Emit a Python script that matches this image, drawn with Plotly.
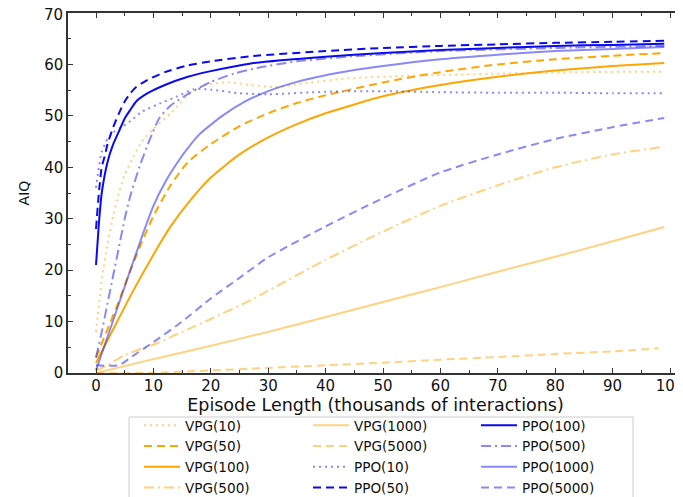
import plotly.graph_objects as go

# ---------------- data ----------------
x_vpg10 = [0, 0.5, 1, 2, 3, 4, 5, 6.5, 8, 10, 13, 16, 19, 23, 27, 31, 36, 44, 55, 70, 85, 99]
y_vpg10 = [8, 13, 18, 25, 30.5, 35, 38.5, 42, 45, 47.5, 50.5, 54, 56, 56.5, 56, 55.6, 56.3, 57.3, 57.8, 58.2, 58.5, 58.6]

x_vpg50 = [0, 2, 4, 6, 8, 10, 13, 16, 20, 25, 30, 35, 40, 50, 60, 70, 80, 90, 99]
y_vpg50 = [3, 8.5, 14, 20, 25.5, 30.5, 36.5, 41, 44.5, 48, 50.5, 52.5, 54, 56.5, 58.5, 60, 61, 61.7, 62.2]

x_vpg100 = [0, 3, 6, 10, 13, 16, 20, 25, 30, 35, 40, 50, 60, 70, 80, 90, 99]
y_vpg100 = [2, 8.5, 15, 23, 28.5, 33, 38, 42.5, 45.8, 48.4, 50.5, 53.8, 56, 57.6, 58.8, 59.7, 60.3]

x_vpg500 = [0, 2, 5, 10, 15, 20, 27, 30, 40, 50, 60, 70, 80, 90, 99]
y_vpg500 = [0.5, 1.5, 3.5, 5.5, 8, 10.5, 14.2, 16, 22, 27.5, 32.5, 36.5, 40, 42.5, 44]

x_vpg1000 = [0, 10, 20, 30, 40, 50, 60, 70, 80, 90, 99]
y_vpg1000 = [0, 2.7, 5.3, 8, 10.9, 13.8, 16.7, 19.7, 22.6, 25.6, 28.4]

x_vpg5000 = [0, 10, 20, 30, 40, 50, 60, 70, 80, 90, 98]
y_vpg5000 = [0, 0.05, 0.5, 1.0, 1.5, 2.0, 2.6, 3.1, 3.7, 4.2, 4.8]

x_ppo10 = [0, 0.5, 1, 2, 3, 4.2, 6, 8, 11.7, 14, 17, 20, 25, 30, 40, 50, 60, 70, 80, 90, 99]
y_ppo10 = [36, 40, 43, 45.5, 46.8, 47.6, 49, 50.8, 52.7, 53.7, 55.2, 55.1, 54.4, 54.2, 54.7, 54.8, 54.6, 54.5, 54.5, 54.4, 54.4]

x_ppo50 = [0, 0.5, 1, 1.6, 2, 3, 4, 5, 6, 7, 9, 12, 16, 20, 27, 40, 50, 60, 70, 80, 90, 99]
y_ppo50 = [28, 35, 40, 42.5, 44.5, 47.8, 50.5, 52.8, 54.4, 55.6, 57, 58.5, 59.8, 60.6, 61.6, 62.6, 63.2, 63.6, 63.9, 64.2, 64.4, 64.6]

x_ppo100 = [0, 0.5, 1, 2, 3, 4, 5, 6, 7, 9, 12, 16, 20, 27, 40, 50, 60, 70, 80, 90, 99]
y_ppo100 = [21, 29, 35, 41, 44.5, 47, 49.5, 51.2, 52.8, 54.4, 56, 57.6, 58.7, 60.2, 61.5, 62.2, 62.8, 63.2, 63.6, 63.8, 64]

x_ppo500 = [0, 1, 2, 3, 4, 5, 6, 7.7, 9.4, 11, 13, 16.4, 20, 24, 28, 35, 45, 60, 80, 99]
y_ppo500 = [3, 8, 13.5, 19, 24.5, 30, 34.5, 40.5, 45.5, 49.5, 52, 54.5, 56.6, 58.2, 59.3, 60.6, 61.6, 62.6, 63.2, 63.6]

x_ppo1000 = [0, 2, 5, 8, 10, 12, 14.6, 16.4, 18, 22, 26, 30, 35, 40, 45, 50, 60, 70, 80, 90, 99]
y_ppo1000 = [0.5, 7, 16.8, 26.5, 32.5, 37, 41.6, 44.3, 46.4, 50, 52.8, 54.8, 56.6, 57.9, 58.9, 59.7, 61, 61.9, 62.6, 63, 63.4]

x_ppo5000 = [0, 4, 6, 10, 15, 20, 25, 30, 40, 50, 60, 70, 80, 90, 99]
y_ppo5000 = [1.5, 1.5, 3, 6, 10, 14.5, 18.5, 22.5, 28.5, 34, 39, 42.5, 45.5, 47.8, 49.6]

x_ticks = [0, 10, 20, 30, 40, 50, 60, 70, 80, 90, 100]
y_ticks = [0, 10, 20, 30, 40, 50, 60, 70]

# ---------------- styling ----------------
ORANGE = "rgb(255,165,0)"
ORANGE_L = "rgba(255,165,0,0.5)"
BLUE = "rgb(10,10,240)"
BLUE_L = "rgba(40,40,240,0.55)"

DOT = "2px,4px"
DASH = "8px,5px"
DASHDOT = "10px,4px,2px,4px"

series = [
    ("VPG(10)", x_vpg10, y_vpg10, ORANGE_L, DOT, "legend"),
    ("VPG(50)", x_vpg50, y_vpg50, ORANGE, DASH, "legend"),
    ("VPG(100)", x_vpg100, y_vpg100, ORANGE, "solid", "legend"),
    ("VPG(500)", x_vpg500, y_vpg500, ORANGE_L, DASHDOT, "legend"),
    ("VPG(1000)", x_vpg1000, y_vpg1000, ORANGE_L, "solid", "legend2"),
    ("VPG(5000)", x_vpg5000, y_vpg5000, ORANGE_L, DASH, "legend2"),
    ("PPO(10)", x_ppo10, y_ppo10, BLUE_L, DOT, "legend2"),
    ("PPO(50)", x_ppo50, y_ppo50, BLUE, DASH, "legend2"),
    ("PPO(100)", x_ppo100, y_ppo100, BLUE, "solid", "legend3"),
    ("PPO(500)", x_ppo500, y_ppo500, BLUE_L, DASHDOT, "legend3"),
    ("PPO(1000)", x_ppo1000, y_ppo1000, BLUE_L, "solid", "legend3"),
    ("PPO(5000)", x_ppo5000, y_ppo5000, BLUE_L, DASH, "legend3"),
]

fig = go.Figure()
for name, xs, ys, col, dash, leg in series:
    fig.add_trace(go.Scatter(
        x=xs, y=ys, mode="lines", name=name,
        line=dict(color=col, width=2, dash=dash, shape="spline", smoothing=0.6),
        legend=leg, legendgroup=name,
    ))

# the page body adds an 8px offset; figure coords = page coords - 8
OFF = 8
W, H = 683 - OFF, 497 - OFF
L, R, T, B = 68 - OFF, 0, 13 - OFF, 497 - 373
pw, ph = W - L - R, H - T - B

def px2paper_x(px):
    return (px - OFF - L) / pw

def px2paper_y(py):
    return (H - B - (py - OFF)) / ph

FONT = "DejaVu Sans"
TICKSIZE = 15
TOP_TICK = y_ticks[-1]
# the topmost y tick label sits right at the page edge; draw it a hair lower as text
y_ticktext = ["" if v == TOP_TICK else str(v) for v in y_ticks]

leg_common = dict(
    orientation="v", xanchor="left", yanchor="top",
    bgcolor="rgba(0,0,0,0)", borderwidth=0,
    font=dict(family=FONT, size=13.6, color="#111"),
    tracegroupgap=0, itemwidth=36,
)
fig.update_layout(
    width=W, height=H,
    margin=dict(l=L, r=R, t=T, b=B, pad=0, autoexpand=False),
    paper_bgcolor="white", plot_bgcolor="white",
    font=dict(family=FONT, size=16, color="#111"),
    legend=dict(x=px2paper_x(139), y=px2paper_y(410), **leg_common),
    legend2=dict(x=px2paper_x(308), y=px2paper_y(410), **leg_common),
    legend3=dict(x=px2paper_x(476), y=px2paper_y(410), **leg_common),
    xaxis=dict(
        range=[(68 - 96) / 5.74, (683 - 96) / 5.74],
        tickvals=x_ticks, ticktext=[str(v) for v in x_ticks],
        ticks="inside", ticklen=5, tickwidth=1.2, tickcolor="#333",
        minor=dict(dtick=5, tick0=0, ticks="inside", ticklen=3.5, tickwidth=1.2, tickcolor="#333"),
        showline=True, linecolor="#333", linewidth=1.5, mirror="ticks",
        showgrid=False, zeroline=False, automargin=False,
        ticklabelstandoff=-2, ticklabeloverflow="allow",
        tickfont=dict(family=FONT, size=TICKSIZE, color="#111"),
        title=dict(text="Episode Length (thousands of interactions)",
                   font=dict(family=FONT, size=17.5, color="#111"), standoff=1),
    ),
    yaxis=dict(
        range=[0, 70],
        tickvals=y_ticks, ticktext=y_ticktext,
        ticks="inside", ticklen=5, tickwidth=1.2, tickcolor="#333",
        minor=dict(dtick=5, tick0=0, ticks="inside", ticklen=3.5, tickwidth=1.2, tickcolor="#333"),
        showline=True, linecolor="#333", linewidth=1.5,
        showgrid=False, zeroline=False, automargin=False,
        ticklabeloverflow="allow",
        tickfont=dict(family=FONT, size=TICKSIZE, color="#111"),
        title=dict(text="AIQ", font=dict(family=FONT, size=14, color="#111"), standoff=11),
    ),
    annotations=[dict(
        text=str(TOP_TICK), xref="paper", yref="y", x=0, y=TOP_TICK,
        xanchor="right", yanchor="middle", xshift=-3, yshift=-2,
        showarrow=False, font=dict(family=FONT, size=TICKSIZE, color="#111"),
    )],
    shapes=[dict(
        type="rect", xref="paper", yref="paper",
        x0=px2paper_x(129), x1=px2paper_x(633),
        y0=px2paper_y(510), y1=px2paper_y(417),
        line=dict(color="#cccccc", width=1), fillcolor="rgba(0,0,0,0)", layer="below",
    )],
)

fig.write_html("out.html")
